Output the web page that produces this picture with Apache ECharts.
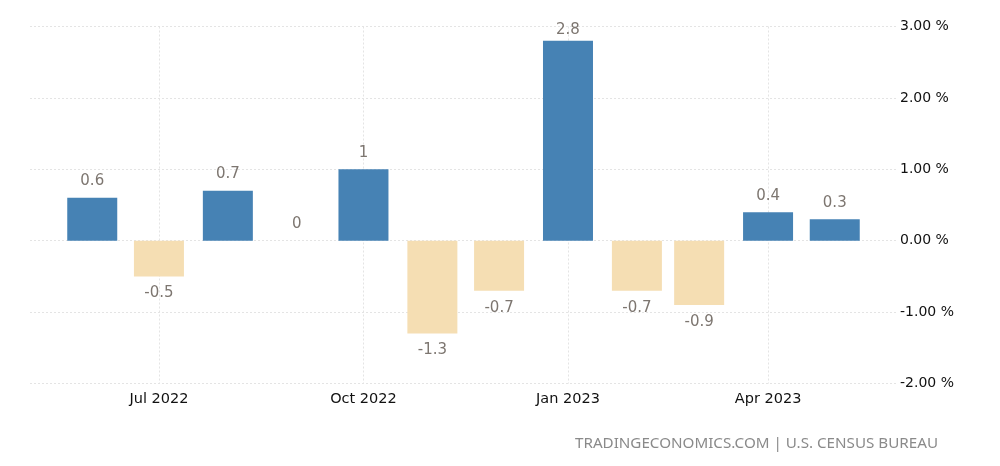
<!DOCTYPE html>
<html>
<head>
<meta charset="utf-8">
<style>
  html, body { margin: 0; padding: 0; background: #fff; }
  #chart { width: 1000px; height: 466px; }
</style>
<script src="https://cdn.jsdelivr.net/npm/echarts@6/dist/echarts.min.js"></script>
</head>
<body>
<div id="chart"></div>
<script>
var months = ['2022-06-01','2022-07-01','2022-08-01','2022-09-01','2022-10-01','2022-11-01','2022-12-01','2023-01-01','2023-02-01','2023-03-01','2023-04-01','2023-05-01'];
var values = [0.6,-0.5,0.7,0,1,-1.3,-0.7,2.8,-0.7,-0.9,0.4,0.3];
var tickDates = ['2022-07-01','2022-10-01','2023-01-01','2023-04-01'];
var tickLabels = ['Jul 2022','Oct 2022','Jan 2023','Apr 2023'];
var font = '"DejaVu Sans", sans-serif';

var tickTimes = tickDates.map(function(d){ return Date.parse(d); });
var gridLine = { color: '#e4e4e4', type: [2, 2], width: 1 };

var chart = echarts.init(document.getElementById('chart'));
chart.setOption({
  animation: false,
  textStyle: { fontFamily: font },
  title: {
    text: 'TRADINGECONOMICS.COM | U.S. CENSUS BUREAU',
    right: 57, top: 431,
    textStyle: { color: '#8a8a8a', fontSize: 15.2, fontWeight: 'normal', fontFamily: '"Noto Sans", sans-serif' }
  },
  grid: { left: 30, right: 103, top: 26.5, bottom: 82.5 },
  xAxis: {
    // dates are plain timestamps so the ticks can sit on the quarter starts only
    type: 'value',
    min: Date.parse('2022-05-04'),
    max: Date.parse('2023-05-29'),
    axisLine: { show: false },
    axisTick: { show: false, customValues: tickTimes },
    axisLabel: {
      customValues: tickTimes,
      color: '#111', fontSize: 14.5, margin: 8,
      formatter: function(v){ return tickLabels[tickTimes.indexOf(+v)]; }
    },
    splitLine: { show: true, lineStyle: gridLine }
  },
  yAxis: {
    type: 'value',
    position: 'right',
    min: -2, max: 3, interval: 1,
    axisLine: { show: false },
    axisTick: { show: false },
    axisLabel: {
      color: '#111', fontSize: 14, margin: 3,
      formatter: function(v){ return v.toFixed(2) + ' %'; }
    },
    splitLine: { show: true, lineStyle: gridLine }
  },
  series: [{
    type: 'bar',
    barWidth: 50,
    data: months.map(function(m, i){
      var neg = values[i] < 0;
      return {
        value: [Date.parse(m), values[i]],
        itemStyle: { color: neg ? '#f5deb3' : '#4682b4' },
        // the tallest label is squeezed against the top of the plot
        label: { position: neg ? 'bottom' : 'top', distance: values[i] > 2.5 ? 3 : (neg ? 9.5 : 9) }
      };
    }),
    label: {
      show: true, color: '#7d7670', fontSize: 15,
      formatter: function(p){ return String(p.value[1]); }
    }
  }]
});
</script>
</body>
</html>
